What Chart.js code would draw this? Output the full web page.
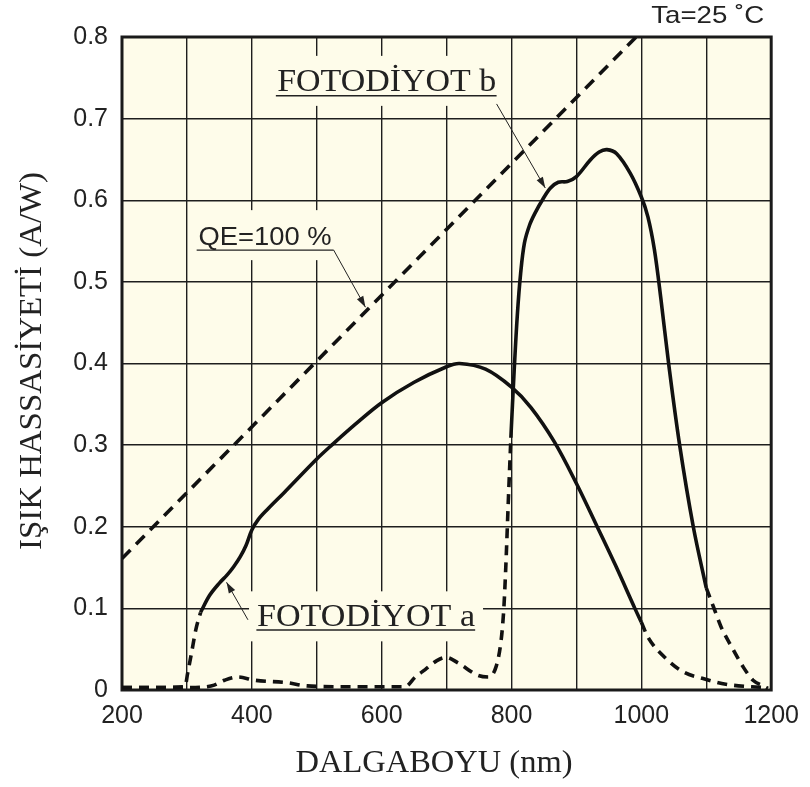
<!DOCTYPE html>
<html>
<head>
<meta charset="utf-8">
<script src="https://cdn.jsdelivr.net/npm/chart.js@4/dist/chart.umd.min.js"></script>
<style>
  html, body { margin: 0; padding: 0; background: #ffffff; }
  canvas { display: block; }
</style>
</head>
<body>
<canvas id="c" width="810" height="787"></canvas>
<script>
// Spectral responsivity of two photodiodes, wavelength in nm, responsivity in A/W
const xTicks = [200, 400, 600, 800, 1000, 1200];
const yTicks = [0, 0.1, 0.2, 0.3, 0.4, 0.5, 0.6, 0.7, 0.8];

// QE = 100 % reference line
const qeNm  = [200, 992];
const qeVal = [0.161, 0.8];

// Photodiode a
const aLeftNm   = [200, 250, 297, 301, 307, 314, 321];
const aLeftVal  = [0.003, 0.003, 0.004, 0.02, 0.045, 0.075, 0.095];
const aSolidNm  = [321, 335, 350, 362, 372, 382, 391, 400, 410, 425, 450, 500, 523, 560, 600, 650, 700, 720, 760, 800, 830, 866, 900, 932, 960, 990, 1000];
const aSolidVal = [0.095, 0.116, 0.131, 0.141, 0.151, 0.163, 0.177, 0.196, 0.209, 0.222, 0.242, 0.283, 0.300, 0.326, 0.352, 0.377, 0.396, 0.400, 0.393, 0.371, 0.346, 0.304, 0.253, 0.200, 0.153, 0.100, 0.083];
const aRightNm  = [1000, 1010, 1040, 1065, 1095, 1130, 1170, 1192];
const aRightVal = [0.083, 0.065, 0.037, 0.022, 0.014, 0.007, 0.004, 0.003];

// Photodiode b
const bLeftNm   = [200, 300, 330, 342, 358, 378, 404, 454, 485, 540, 600, 636, 652, 667, 685, 699, 718, 748, 764, 776, 784, 788, 791, 795, 799];
const bLeftVal  = [0.003, 0.003, 0.004, 0.006, 0.012, 0.016, 0.012, 0.009, 0.005, 0.004, 0.004, 0.004, 0.016, 0.025, 0.036, 0.040, 0.033, 0.018, 0.016, 0.028, 0.061, 0.098, 0.147, 0.23, 0.309];
const bSolidNm  = [799, 804, 809, 814, 820, 828, 836, 848, 860, 872, 886, 900, 921, 935, 947, 962, 983, 1000, 1010, 1020, 1030, 1042, 1059, 1080, 1100];
const bSolidVal = [0.309, 0.390, 0.460, 0.510, 0.548, 0.570, 0.584, 0.601, 0.615, 0.622, 0.623, 0.629, 0.649, 0.659, 0.662, 0.657, 0.633, 0.604, 0.580, 0.540, 0.480, 0.400, 0.300, 0.200, 0.125];
const bRightNm  = [1100, 1111, 1123, 1139, 1157, 1172, 1188, 1195];
const bRightVal = [0.125, 0.102, 0.077, 0.053, 0.028, 0.012, 0.005, 0.002];

const pts = (xs, ys) => xs.map((x, i) => ({ x: x, y: ys[i] }));

const INK = '#111111';
const TEXT = '#222222';
const CREAM = '#fefcea';
const DASH = [10, 7];

function series(xs, ys, dashed, dash) {
  return {
    data: pts(xs, ys),
    borderColor: INK,
    borderWidth: 3.6,
    borderDash: dashed ? (dash || DASH) : [],
    borderCapStyle: 'butt',
    borderJoinStyle: 'round',
    pointRadius: 0,
    fill: false,
    cubicInterpolationMode: dashed ? 'monotone' : 'default',
    tension: 0.35
  };
}

// Callout labels, anchored in data coordinates (nm, A/W)
const callouts = [
  { text: 'QE=100 %', font: '26px "Liberation Sans"', x: 318, y: 0.545, width: 133,
    line: [315, 526, 0.539], leader: [526, 0.539, 575, 0.469] },
  { text: 'FOTODİYOT b', font: '31px "Liberation Serif"', x: 439, y: 0.734, width: 219,
    line: [437, 777, 0.728], leader: [777, 0.718, 852, 0.615] },
  { text: 'FOTODİYOT a', font: '31px "Liberation Serif"', x: 408, y: 0.078, width: 218,
    line: [407, 744, 0.0735], leader: [394, 0.086, 361, 0.132] }
];

function fitText(ctx, text, x, y, width, font, align) {
  ctx.font = font;
  const w = ctx.measureText(text).width;
  const s = width / w;
  ctx.save();
  ctx.translate(x, y);
  ctx.scale(s, 1);
  ctx.textAlign = 'left';
  ctx.textBaseline = 'alphabetic';
  ctx.fillText(text, align === 'center' ? -w / 2 : (align === 'right' ? -w : 0), 0);
  ctx.restore();
}

function arrow(ctx, x1, y1, x2, y2) {
  ctx.beginPath();
  ctx.moveTo(x1, y1);
  ctx.lineTo(x2, y2);
  ctx.stroke();
  const ang = Math.atan2(y2 - y1, x2 - x1);
  const L = 11, W = 3.6;
  ctx.beginPath();
  ctx.moveTo(x2, y2);
  ctx.lineTo(x2 - L * Math.cos(ang) + W * Math.sin(ang), y2 - L * Math.sin(ang) - W * Math.cos(ang));
  ctx.lineTo(x2 - L * Math.cos(ang) - W * Math.sin(ang), y2 - L * Math.sin(ang) + W * Math.cos(ang));
  ctx.closePath();
  ctx.fill();
}

const plotDecor = {
  id: 'plotDecor',
  beforeDraw(chart) {
    const { ctx, chartArea: a } = chart;
    ctx.save();
    ctx.fillStyle = CREAM;
    ctx.fillRect(a.left, a.top, a.right - a.left, a.bottom - a.top);
    ctx.restore();
  },
  beforeDatasetsDraw(chart) {
    const { ctx, chartArea: a, scales: { x, y } } = chart;
    ctx.save();
    // callouts: cream box over the grid, text, underline and leader arrow
    callouts.forEach(c => {
      const px = x.getPixelForValue(c.x);
      const py = y.getPixelForValue(c.y);
      ctx.fillStyle = CREAM;
      ctx.fillRect(px - 8, py - 35, c.width + 16, 50);
      ctx.fillStyle = TEXT;
      fitText(ctx, c.text, px, py, c.width, c.font, 'left');
      ctx.strokeStyle = TEXT;
      ctx.lineWidth = 1.3;
      const uy = y.getPixelForValue(c.line[2]);
      ctx.beginPath();
      ctx.moveTo(x.getPixelForValue(c.line[0]), uy);
      ctx.lineTo(x.getPixelForValue(c.line[1]), uy);
      ctx.stroke();
      ctx.lineWidth = 1;
      ctx.fillStyle = '#222';
      arrow(ctx,
        x.getPixelForValue(c.leader[0]), y.getPixelForValue(c.leader[1]),
        x.getPixelForValue(c.leader[2]), y.getPixelForValue(c.leader[3]));
    });
    // frame
    ctx.strokeStyle = '#1a1a1a';
    ctx.lineWidth = 3;
    ctx.strokeRect(a.left, a.top, a.right - a.left, a.bottom - a.top);
    ctx.restore();
  },
  afterDraw(chart) {
    const { ctx, chartArea: a } = chart;
    ctx.save();
    ctx.fillStyle = TEXT;
    // axis titles
    fitText(ctx, 'DALGABOYU (nm)', 434, 772, 277, '31px "Liberation Serif"', 'center');
    ctx.save();
    ctx.translate(41, 361);
    ctx.rotate(-Math.PI / 2);
    fitText(ctx, 'IŞIK HASSASİYETİ (A/W)', 0, 0, 378, '31px "Liberation Serif"', 'center');
    ctx.restore();
    // ambient temperature note
    fitText(ctx, 'Ta=25 ˚C', a.right - 7, 23, 113, '24px "Liberation Sans"', 'right');
    ctx.restore();
  }
};

new Chart(document.getElementById('c'), {
  type: 'line',
  data: {
    datasets: [
      series(qeNm, qeVal, true, [12, 8]),
      series(aLeftNm, aLeftVal, true),
      series(aSolidNm, aSolidVal, false),
      series(aRightNm, aRightVal, true),
      series(bLeftNm, bLeftVal, true),
      series(bSolidNm, bSolidVal, false),
      series(bRightNm, bRightVal, true)
    ]
  },
  options: {
    responsive: false,
    animation: false,
    devicePixelRatio: 1,
    layout: { padding: { top: 37, right: 35, left: 0, bottom: 0 } },
    plugins: { legend: { display: false }, tooltip: { enabled: false } },
    scales: {
      x: {
        type: 'linear',
        min: 200, max: 1200,
        afterFit(s) { s.height = 97; },
        border: { display: false },
        grid: { color: '#1e1e1e', lineWidth: 1.4, drawTicks: false },
        ticks: {
          stepSize: 100,
          autoSkip: false,
          maxRotation: 0,
          padding: 11,
          color: TEXT,
          font: { family: '"Liberation Sans"', size: 25 },
          callback: v => xTicks.includes(v) ? String(v) : ''
        }
      },
      y: {
        type: 'linear',
        min: 0, max: 0.8,
        afterFit(s) { s.width = 122; },
        border: { display: false },
        grid: { color: '#1e1e1e', lineWidth: 1.4, drawTicks: false },
        ticks: {
          stepSize: 0.1,
          padding: 14,
          color: TEXT,
          font: { family: '"Liberation Sans"', size: 25 },
          callback: v => {
            const t = yTicks.find(k => Math.abs(k - v) < 1e-9);
            return t === undefined ? '' : (t === 0 ? '0' : t.toFixed(1));
          }
        }
      }
    }
  },
  plugins: [plotDecor]
});
</script>
</body>
</html>
